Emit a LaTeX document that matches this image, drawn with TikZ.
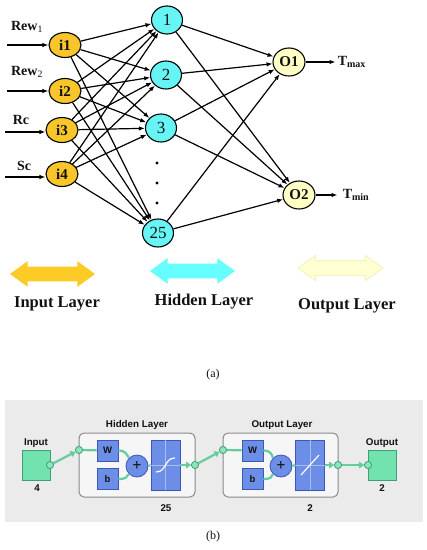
\documentclass[tikz,border=0pt]{standalone}
\usepackage{fontspec}
\setmainfont{Liberation Serif}
\newfontfamily\uifont{Liberation Sans}
\usetikzlibrary{positioning,arrows.meta,shapes.geometric,shapes.arrows}
\definecolor{inFill}{HTML}{F8C62A}
\definecolor{hidFill}{HTML}{66F4F4}
\definecolor{outFill}{HTML}{FFFFC4}
\definecolor{legIn}{HTML}{FCCB26}
\definecolor{legHid}{HTML}{66FFFF}
\definecolor{legOut}{HTML}{FFFFD2}
\definecolor{legOutStroke}{HTML}{EDEDB4}
\definecolor{panelGrey}{HTML}{EBEBEB}
\definecolor{frameGrey}{HTML}{8A8A8A}
\definecolor{frameFill}{HTML}{F6F6F6}
\definecolor{blueStroke}{HTML}{3A59B4}
\definecolor{blueFill}{HTML}{6D8EE6}
\definecolor{blueAxis}{HTML}{A9BDF2}
\definecolor{ioStroke}{HTML}{3F9F74}
\definecolor{ioFill}{HTML}{72E2AE}
\definecolor{wireGreen}{HTML}{62CE9E}
\definecolor{portFill}{HTML}{8CE6BC}
\definecolor{inkText}{HTML}{111111}

\begin{document}
\begin{tikzpicture}[x=1pt,y=-1pt,
  every node/.style={text=inkText},
  neuron/.style={ellipse, draw=black, line width=1.1pt, inner sep=0pt,
                 font=\fontsize{15}{15}\selectfont\bfseries},
  inp/.style={neuron, fill=inFill, minimum width=32pt, minimum height=25pt},
  hid/.style={neuron, fill=hidFill, minimum width=31pt, minimum height=28pt,
              font=\fontsize{17}{17}\selectfont},
  outp/.style={neuron, fill=outFill, minimum width=32pt, minimum height=28pt},
  vdot/.style={circle, fill=black, minimum size=3.2pt, inner sep=0pt},
  syn/.style={-{Latex[length=6pt,width=4.5pt]}, line width=1.2pt},
  lbl/.style={font=\fontsize{14}{14}\selectfont\bfseries, inner sep=0pt},
  legend/.style={double arrow, double arrow head extend=5.5pt,
                 double arrow tip angle=72, minimum height=85pt,
                 minimum width=25pt, inner xsep=0pt, inner ysep=7pt,
                 line width=0.6pt},
  legtxt/.style={font=\fontsize{16.5}{16.5}\selectfont\bfseries, inner sep=0pt},
  captxt/.style={font=\fontsize{12}{12}\selectfont, inner sep=0pt},
  layer/.style={draw=frameGrey, fill=frameFill, rounded corners=5pt,
                line width=1pt, minimum height=64pt},
  wbox/.style={draw=blueStroke, fill=blueFill, line width=0.8pt,
               minimum width=21pt, minimum height=21pt, inner sep=0pt,
               font=\uifont\bfseries\fontsize{9.5}{9.5}\selectfont},
  tfbox/.style={wbox, minimum width=29pt, minimum height=50pt},
  sumnode/.style={circle, draw=blueStroke, fill=blueFill, line width=0.8pt,
                  minimum size=22pt, inner sep=0pt,
                  font=\fontsize{16}{16}\selectfont\bfseries},
  port/.style={circle, draw=ioStroke, fill=portFill, line width=0.7pt,
               minimum size=7pt, inner sep=0pt},
  iobox/.style={draw=ioStroke, fill=ioFill, line width=0.8pt,
                minimum width=28pt, minimum height=30pt},
  wire/.style={draw=wireGreen, line width=2.2pt},
  wirearr/.style={wire, -{Triangle[length=5pt,width=6.5pt]}},
  ui/.style={font=\uifont\bfseries\fontsize{9.8}{10}\selectfont, inner sep=0pt},
]
\useasboundingbox (0,0) rectangle (427,550);

% ---------------- (a) NETWORK ----------------
\node[inp] (i1) at (65,45) {i1};
\node[inp] (i2) at (65,91) {i2};
\node[inp] (i3) at (62,130) {i3};
\node[inp] (i4) at (62,174) {i4};

\node[hid] (h1) at (167,20) {1};
\node[hid] (h2) at (166,75) {2};
\node[hid] (h3) at (161,128) {3};
\node[hid] (h25) at (158,233) {25};
\foreach \k/\y in {1/163,2/183,3/203}
  \node[vdot] (dot\k) at (157,\y) {};

\node[outp] (O1) at (289,62) {O1};
\node[outp] (O2) at (299,195) {O2};

% inputs
\coordinate (rew1) at (7,45);
\coordinate (rew2) at (7,91);
\coordinate (rc) at (5,132);
\coordinate (sc) at (5,177);
\draw[syn] (rew1) -- (i1);
\draw[syn] (rew2) -- (i2);
\draw[syn] (rc) -- (i3.west |- rc);
\draw[syn] (sc) -- (i4.west |- sc);
\node[lbl] (lRew1) at (27,27) {Rew\textsubscript{\mdseries 1}};
\node[lbl] (lRew2) at (27,72) {Rew\textsubscript{\mdseries 2}};
\node[lbl] (lRc) at (21,120) {Rc};
\node[lbl] (lSc) at (24,166) {Sc};

% fully connected layers
\foreach \i in {1,...,4}
  \foreach \h in {1,2,3,25}
    \draw[syn] (i\i) -- (h\h);
\foreach \h in {1,2,3,25}
  \foreach \o in {O1,O2}
    \draw[syn] (h\h) -- (\o);

% outputs
\draw[syn] (O1.east) -- ++(30,0) coordinate (tmax);
\draw[syn] (O2.east) -- ++(22,0) coordinate (tmin);
\node[lbl, anchor=west] (lTmax) at ([xshift=2pt]tmax) {T\textsubscript{\fontsize{10}{10}\selectfont max}};
\node[lbl, anchor=west] (lTmin) at ([xshift=5pt]tmin) {T\textsubscript{\fontsize{10}{10}\selectfont min}};

% ---------------- LEGEND ----------------
\node[legend, fill=legIn] (legI) at (52.5,274) {};
\node[legend, fill=legHid] (legH) at (192.5,271) {};
\node[legend, fill=legOut, draw=legOutStroke] (legO) at (340.5,268) {};
\node[legtxt] (tI) at (57,304) {Input Layer};
\node[legtxt] (tH) at (204,302) {Hidden Layer};
\node[legtxt] (tO) at (347,306) {Output Layer};

\node[captxt] (capA) at (213,375) {(a)};

% ---------------- (b) NNTOOL VIEW ----------------
\fill[panelGrey] (5,400) rectangle (423,522);

\node[iobox] (inBox) at (36,465) {};
\node[ui] at (36,443) {Input};
\node[ui] at (37,488) {4};
\node[port] (inPort) at (50,465) {};

\node[layer, minimum width=116pt] (hLayer) at (137,465) {};
\node[ui] at (137,425) {Hidden Layer};
\node[ui] at (166,508) {25};
\node[wbox] (hW) at (107.5,450.5) {W};
\node[wbox] (hb) at (107.5,479) {b};
\node[sumnode] (hSum) at (137,466) {+};
\node[tfbox] (hTf) at (165.5,465) {};
\draw[blueAxis, line width=0.5pt] (hTf.west) -- (hTf.east) (hTf.north) -- (hTf.south);
\draw[white, line width=1.2pt] (156,472) .. controls (167,472) and (164,458) .. (175,458);
\node[port] (hIn) at (79,450) {};
\node[port] (hOut) at (195,465) {};

\node[layer, minimum width=115pt] (oLayer) at (280.5,465) {};
\node[ui] at (282,425) {Output Layer};
\node[ui] at (310,508) {2};
\node[wbox] (oW) at (252.5,450.5) {W};
\node[wbox] (ob) at (252.5,479) {b};
\node[sumnode] (oSum) at (281,466) {+};
\node[tfbox] (oTf) at (310,465) {};
\draw[blueAxis, line width=0.5pt] (oTf.west) -- (oTf.east) (oTf.north) -- (oTf.south);
\draw[white, line width=1.2pt] (301,475) -- (319,455);
\node[port] (oIn) at (223,450) {};
\node[port] (oOut) at (338,465) {};

\node[iobox] (outBox) at (382.5,465.5) {};
\node[ui] at (382,443) {Output};
\node[ui] at (382,488) {2};
\node[port] (outPort) at (368,465) {};

% wires
\draw[wirearr] (inPort) -- (hIn);
\draw[wire] (hIn) -- (hW);
\draw[wire] (hW.east) .. controls (126,450.5) and (127,455) .. (hSum.north west);
\draw[wire] (hb.east) .. controls (126,479) and (127,477) .. (hSum.south west);
\draw[wire] (hSum) -- (hTf);
\draw[wirearr] (hTf.east) -- (hOut);
\draw[wirearr] (hOut) -- (oIn);
\draw[wire] (oIn) -- (oW);
\draw[wire] (oW.east) .. controls (271,450.5) and (272,455) .. (oSum.north west);
\draw[wire] (ob.east) .. controls (271,479) and (272,477) .. (oSum.south west);
\draw[wire] (oSum) -- (oTf);
\draw[wirearr] (oTf.east) -- (oOut);
\draw[wirearr] (oOut) -- (outPort);
\node[port] at (inPort) {};
\node[port] at (hIn) {};
\node[port] at (hOut) {};
\node[port] at (oIn) {};
\node[port] at (oOut) {};
\node[port] at (outPort) {};

\node[captxt] (capB) at (213,537) {(b)};
\end{tikzpicture}
\end{document}
